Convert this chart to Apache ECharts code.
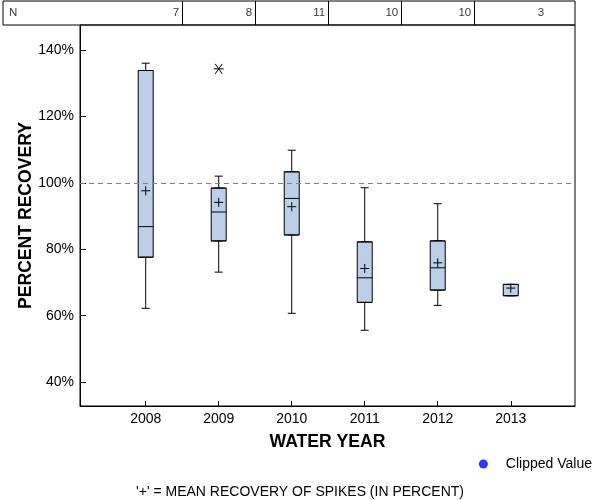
<!DOCTYPE html>
<html>
<head>
<meta charset="utf-8">
<script src="https://cdn.jsdelivr.net/npm/echarts@6/dist/echarts.min.js"></script>
<style>html,body{margin:0;padding:0;background:#fff}#c{width:600px;height:500px}</style>
</head>
<body>
<div id="c"></div>
<script>
const years = [2008, 2009, 2010, 2011, 2012, 2013];
const counts = [7, 8, 11, 10, 10, 3];
const mins = [62.2, 73.1, 60.7, 55.6, 63.1, 66.0];
const q1s = [77.6, 82.5, 84.3, 64.0, 67.7, 66.0];
const medians = [86.8, 91.2, 95.3, 71.4, 74.4, 69.4];
const q3s = [133.8, 98.4, 103.3, 82.2, 82.5, 69.4];
const maxs = [136.0, 102.0, 109.8, 98.5, 93.7, 69.4];
const means = [97.6, 94.1, 92.8, 74.2, 75.9, 68.3];
const outliers = [[2009, 134.3]];
const yTicks = [40, 60, 80, 100, 120, 140];
const refValue = 100;

const xMin = 2007.1, xMax = 2013.88;
const tableXMin = 2006.045;
const yMin = 32.8, yMax = 147.5;

const FONT = 'Liberation Sans, Arial, sans-serif';
const BOX_FILL = '#bbd0e8';

const whiskerData = years.map((y, i) => [y, mins[i], q1s[i], medians[i], q3s[i], maxs[i]]);
const boxData = years.map((y, i) => [y, q1s[i], q1s[i], medians[i], q3s[i], q3s[i]]);
const meanData = years.map((y, i) => [y, means[i]]);
const cellEdges = years.map(y => Math.min(y + 0.5, xMax));
const countData = years.map((y, i) => [cellEdges[i], 0.5, counts[i]]);
const dividers = years.slice(0, -1).map(y => ({ xAxis: y + 0.5 }));

const chart = echarts.init(document.getElementById('c'));
chart.setOption({
  animation: false,
  textStyle: { fontFamily: FONT },
  title: {
    text: "'+' = MEAN RECOVERY OF SPIKES (IN PERCENT)",
    left: 'center', bottom: 1, padding: 0,
    textStyle: { fontSize: 14, fontWeight: 'normal', color: '#000', fontFamily: FONT }
  },
  legend: {
    data: [{ name: 'Clipped Value', icon: 'circle' }],
    right: 8, top: 457, padding: 0,
    itemWidth: 9, itemHeight: 9,
    selectedMode: false,
    textStyle: { fontSize: 14, color: '#000', fontFamily: FONT, padding: [0, 0, 0, 13] }
  },
  grid: [
    { left: 80, right: 25, top: 25, bottom: 94, show: true, borderColor: '#000', borderWidth: 1, containLabel: false },
    { left: 3, right: 25, top: 1, height: 24, show: true, borderColor: '#000', borderWidth: 1, containLabel: false }
  ],
  xAxis: [
    {
      type: 'value', gridIndex: 0, min: xMin, max: xMax,
      name: 'WATER YEAR', nameLocation: 'middle', nameGap: 27, nameMoveOverlap: false,
      nameTextStyle: { fontSize: 17.6, fontWeight: 'bold', color: '#000', fontFamily: FONT },
      axisLine: { show: true, lineStyle: { color: '#000', width: 1 } },
      axisTick: { show: true, inside: true, length: 5, customValues: years, lineStyle: { color: '#000' } },
      axisLabel: { customValues: years, formatter: v => String(v), fontSize: 14, color: '#000', margin: 6, fontFamily: FONT },
      splitLine: { show: false }
    },
    { type: 'value', gridIndex: 0, min: xMin, max: xMax, show: false },
    { type: 'value', gridIndex: 1, min: tableXMin, max: xMax, show: false }
  ],
  yAxis: [
    {
      type: 'value', gridIndex: 0, min: yMin, max: yMax,
      name: 'PERCENT RECOVERY', nameLocation: 'middle', nameGap: 45, nameMoveOverlap: false,
      nameTextStyle: { fontSize: 17.6, fontWeight: 'bold', color: '#000', fontFamily: FONT },
      axisLine: { show: true, lineStyle: { color: '#000', width: 1 } },
      axisTick: { show: true, inside: true, length: 6, customValues: yTicks, lineStyle: { color: '#000' } },
      axisLabel: { customValues: yTicks, formatter: v => v + '%', fontSize: 14, color: '#000', margin: 6, fontFamily: FONT },
      splitLine: { show: false }
    },
    { type: 'value', gridIndex: 1, min: 0, max: 1, show: false }
  ],
  series: [
    {
      type: 'boxplot', xAxisIndex: 1, yAxisIndex: 0,
      data: whiskerData, boxWidth: [8, 8], silent: true,
      itemStyle: { color: BOX_FILL, borderColor: '#000', borderWidth: 1 },
      emphasis: { disabled: true }
    },
    {
      type: 'boxplot', xAxisIndex: 0, yAxisIndex: 0,
      data: boxData, boxWidth: [15, 15], silent: true,
      itemStyle: { color: BOX_FILL, borderColor: '#000', borderWidth: 1 },
      emphasis: { disabled: true },
      markLine: {
        silent: true, symbol: ['none', 'none'], label: { show: false },
        lineStyle: { color: '#808080', type: [5, 4], width: 1 },
        data: [{ yAxis: refValue }]
      }
    },
    {
      type: 'scatter', xAxisIndex: 0, yAxisIndex: 0, data: meanData,
      symbol: 'path://M0,5L10,5M5,0L5,10', symbolSize: 9, silent: true,
      itemStyle: { color: 'rgba(0,0,0,0)', borderColor: '#000', borderWidth: 1, opacity: 1 },
      emphasis: { disabled: true }, z: 5
    },
    {
      type: 'scatter', xAxisIndex: 0, yAxisIndex: 0, data: outliers,
      symbol: 'path://M0,5L10,5M1.5,1.5L8.5,8.5M8.5,1.5L1.5,8.5', symbolSize: 10, silent: true,
      itemStyle: { color: 'rgba(0,0,0,0)', borderColor: '#000', borderWidth: 1, opacity: 1 },
      emphasis: { disabled: true }, z: 5
    },
    {
      name: 'Clipped Value', type: 'scatter', xAxisIndex: 0, yAxisIndex: 0, data: [],
      itemStyle: { color: '#0000ff' }
    },
    {
      type: 'scatter', xAxisIndex: 2, yAxisIndex: 1, silent: true,
      symbolSize: 0, clip: false,
      data: [{ value: [tableXMin, 0.5, 'N'], label: { position: 'right', distance: 6 } }].concat(countData),
      label: {
        show: true, position: 'left', distance: 3,
        formatter: p => String(p.data.value ? p.data.value[2] : p.data[2]),
        fontSize: 11.5, color: '#000', fontFamily: FONT
      },
      markLine: {
        silent: true, symbol: ['none', 'none'], label: { show: false },
        lineStyle: { color: '#000', type: 'solid', width: 1 },
        data: dividers
      }
    }
  ]
});
</script>
</body>
</html>
